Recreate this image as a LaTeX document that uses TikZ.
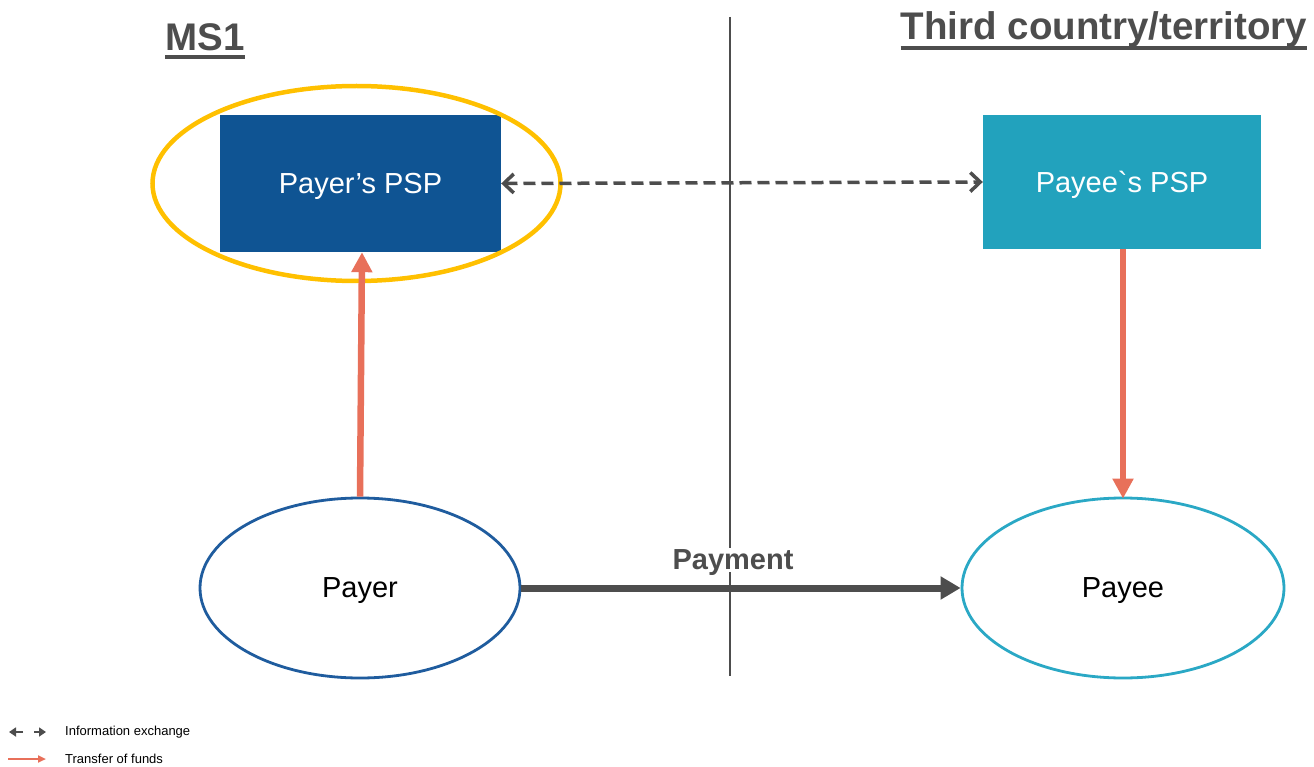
\documentclass[tikz,border=0pt]{standalone}
\usepackage{fontspec}
\setmainfont{Liberation Sans}
\newfontfamily\gravefont{Liberation Sans}
\usetikzlibrary{arrows.meta,shapes.geometric}
\definecolor{psp1}{HTML}{0F5493}
\definecolor{psp2}{HTML}{22A2BD}
\definecolor{ell1}{HTML}{1F5C9E}
\definecolor{ell2}{HTML}{2AA8C5}
\definecolor{yel}{HTML}{FFC000}
\definecolor{fund}{HTML}{E8705A}
\definecolor{dgray}{HTML}{4D4D4D}
\begin{document}
\begin{tikzpicture}[x=1pt,y=-1pt,
  box/.style={rectangle,inner sep=0pt,text=white,text depth=0pt,font=\fontsize{29}{34}\selectfont},
  party/.style={ellipse,draw,line width=2.8pt,fill=white,inner sep=0pt,text depth=0pt,font=\fontsize{29}{34}\selectfont},
  heading/.style={text=dgray,font=\bfseries\fontsize{38.5}{44}\selectfont,inner sep=0pt,anchor=base},
  fundarrow/.style={draw=fund,line width=6.5pt,-{Triangle[length=20pt,width=20pt]}},
  info/.style={draw=dgray,line width=3.5pt,dash pattern=on 12pt off 6pt,{Straight Barb[length=10pt,width=19pt,line width=3.5pt]}-{Straight Barb[length=10pt,width=19pt,line width=3.5pt]}},
  legendtext/.style={font=\fontsize{13}{15}\selectfont,anchor=west,inner sep=0pt}]
\useasboundingbox (0,0) rectangle (1314,767);
% divider
\coordinate (vt) at (730,17);
\coordinate (vb) at (730,676);
\draw[dgray,line width=1.6pt] (vt) -- (vb);
% headings
\node[heading] (ms1) at (205,51) {MS1};
\draw[dgray,line width=3.2pt] ([yshift=-6pt]ms1.base west) -- ([yshift=-6pt]ms1.base east);
\node[heading] (third) at (1104,40) {Third country/territory};
\draw[dgray,line width=3.2pt] ([yshift=-8pt]third.base west) -- ([yshift=-8pt]third.base east);
% boxes
\node[box,fill=psp1,minimum width=281pt,minimum height=137pt] (payerpsp) at (360.5,183.5) {Payer’s PSP};
\node[box,fill=psp2,minimum width=278pt,minimum height=134pt] (payeepsp) at (1122,182) {Payee{\gravefont\char"60}s PSP};
% highlight ellipse
\node[ellipse,draw=yel,line width=4.5pt,minimum width=408pt,minimum height=195pt,inner sep=0pt] (hl) at (356.5,183.5) {};
% parties
\node[party,draw=ell1,minimum width=320pt,minimum height=180pt] (payer) at (360,588) {Payer};
\node[party,draw=ell2,minimum width=322pt,minimum height=180pt] (payee) at (1123,588) {Payee};
% fund transfers
\draw[fundarrow] (payer.north) -- ([xshift=1.5pt]payerpsp.south);
\draw[fundarrow] ([xshift=1pt]payeepsp.south) -- ([yshift=-2pt]payee.north);
% info exchange
\draw[info] (payerpsp.east) -- (payeepsp.west);
% payment
\node[fill=white,text=dgray,text depth=0pt,font=\bfseries\fontsize{29}{34}\selectfont,inner sep=2pt] (paylab) at (733,560) {Payment};
\draw[dgray,line width=7pt,-{Triangle[length=20pt,width=22pt]}] (payer.east) -- (payee.west);
% legend
\coordinate (l1a) at (9,732);
\coordinate (l1b) at (46,732);
\coordinate (l1m) at (28,732);
\draw[dgray,line width=2.5pt,-{Triangle[length=7pt,width=9pt]}] ([xshift=-5pt]l1m) -- (l1a);
\draw[dgray,line width=2.5pt,-{Triangle[length=7pt,width=9pt]}] ([xshift=6pt]l1m) -- (l1b);
\node[legendtext] (lt1) at (65,732) {Information exchange};
\coordinate (l2a) at (8,759);
\coordinate (l2b) at (46,759);
\draw[fund,line width=2pt,-{Triangle[length=8pt,width=7pt]}] (l2a) -- (l2b);
\node[legendtext] (lt2) at (65,759) {Transfer of funds};
\end{tikzpicture}
\end{document}
